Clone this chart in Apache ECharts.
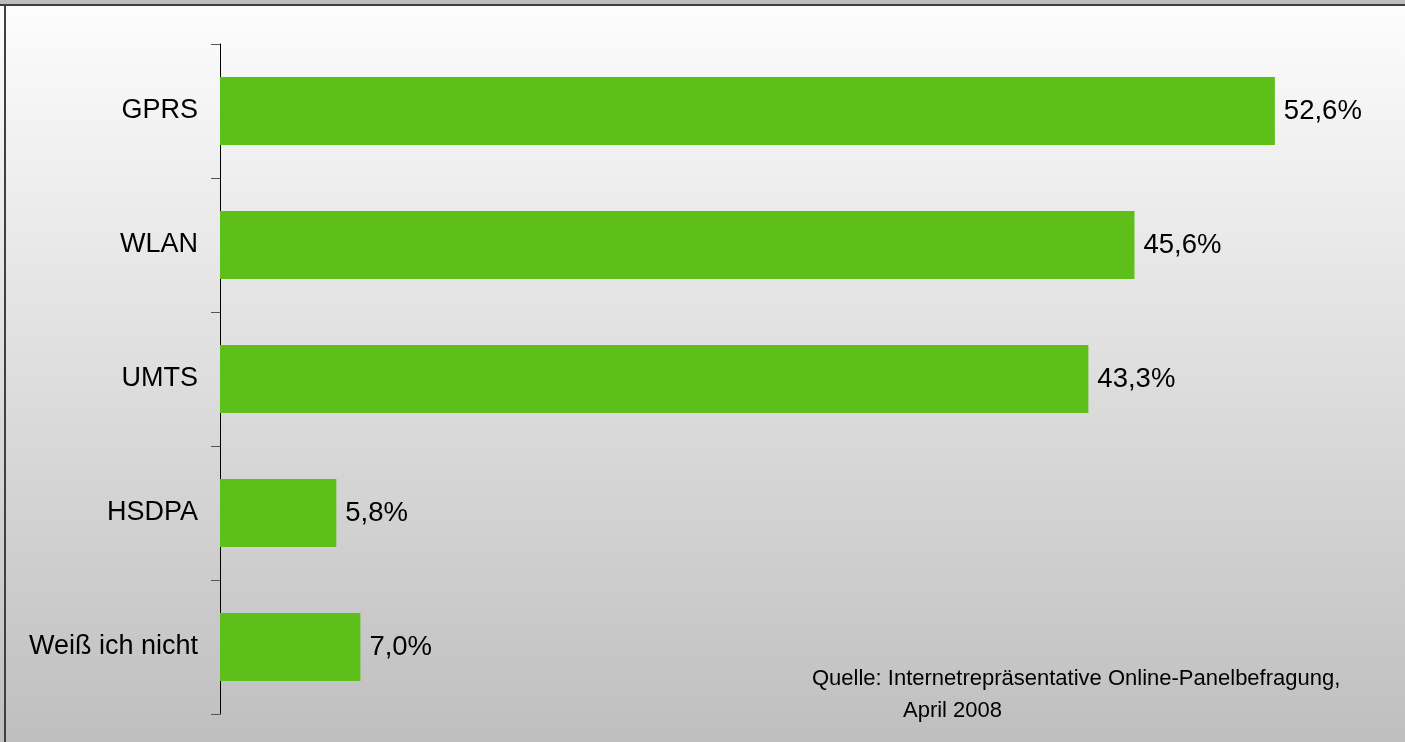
<!DOCTYPE html>
<html>
<head>
<meta charset="utf-8">
<script src="https://cdn.jsdelivr.net/npm/echarts@6/dist/echarts.min.js"></script>
<style>
html,body{margin:0;padding:0;background:#fff;}
#chart{width:1405px;height:742px;}
</style>
</head>
<body>
<div id="chart"></div>
<script>
const categories = ['GPRS', 'WLAN', 'UMTS', 'HSDPA', 'Weiß ich nicht'];
const values = [52.6, 45.6, 43.3, 5.8, 7.0];
const sourceLine1 = 'Quelle: Internetrepräsentative Online-Panelbefragung,';
const sourceLine2 = 'April 2008';

const chart = echarts.init(document.getElementById('chart'));
const FONT = '"Liberation Sans", Arial, sans-serif';
chart.setOption({
  animation: false,
  graphic: [
    { type: 'rect', z: -10, silent: true, shape: { x: 0, y: 0, width: 1405, height: 742 },
      style: { fill: new echarts.graphic.LinearGradient(0, 0, 0, 1, [
        { offset: 0, color: '#fdfdfd' }, { offset: 1, color: '#bfbfbf' }]) } },
    { type: 'rect', z: 10, silent: true, shape: { x: 0, y: 0, width: 1405, height: 4 }, style: { fill: '#bdbdbd' } },
    { type: 'rect', z: 10, silent: true, shape: { x: 0, y: 4, width: 1405, height: 2 }, style: { fill: '#404040' } },
    { type: 'rect', z: 10, silent: true, shape: { x: 4, y: 4, width: 2, height: 738 }, style: { fill: '#404040' } },
    { type: 'text', z: 10, left: 812, top: 668, style: { text: sourceLine1, font: '22px ' + FONT, fill: '#000' } },
    { type: 'text', z: 10, left: 903, top: 700, style: { text: sourceLine2, font: '22px ' + FONT, fill: '#000' } }
  ],
  grid: { left: 220, right: 82, top: 44, bottom: 28, containLabel: false },
  xAxis: { type: 'value', min: 0, max: 55, show: false },
  yAxis: {
    type: 'category', data: categories, inverse: true,
    axisLine: { show: true, lineStyle: { color: '#000', width: 1 } },
    axisTick: { show: true, length: 9, alignWithLabel: false, lineStyle: { color: '#555', width: 1 } },
    axisLabel: { color: '#000', fontSize: 27, fontFamily: FONT, margin: 22, padding: [4, 0, 0, 0] },
    splitLine: { show: false }
  },
  series: [{
    type: 'bar', data: values, barWidth: 68,
    itemStyle: { color: '#5fbf1a' },
    label: { show: true, position: 'right', distance: 9, color: '#000', fontSize: 27.5, fontFamily: FONT,
      padding: [4, 0, 0, 0],
      formatter: p => p.value.toFixed(1).replace('.', ',') + '%' }
  }]
});
</script>
</body>
</html>
